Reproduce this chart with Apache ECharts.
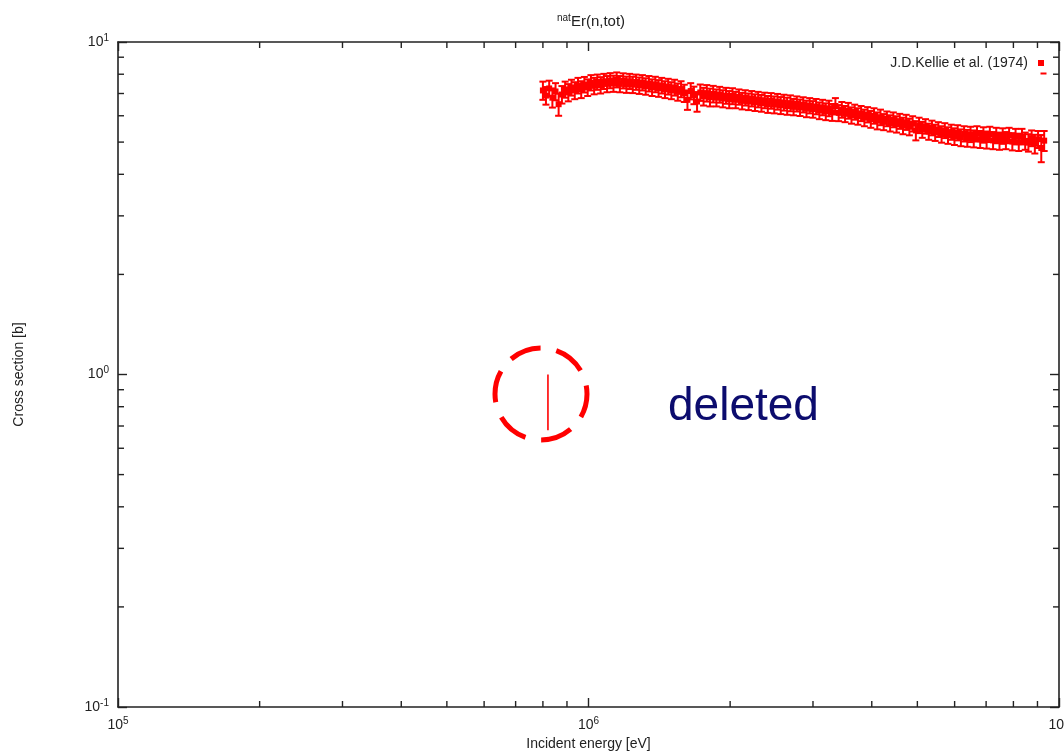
<!DOCTYPE html>
<html>
<head>
<meta charset="utf-8">
<title>natEr(n,tot)</title>
<script src="https://cdn.jsdelivr.net/npm/echarts@6/dist/echarts.min.js"></script>
<style>
  html, body { margin: 0; padding: 0; background: #ffffff; overflow: hidden; }
  #chart { width: 1064px; height: 754px; }
</style>
</head>
<body>
<div id="chart"></div>
<script>
// Total cross section of natural erbium, J.D.Kellie et al. (1974)
// Each entry: [incident energy (MeV), cross section (b), uncertainty (b)]
const kellie = [
  [0.800, 7.15, 0.45], [0.812, 6.90, 0.42], [0.825, 7.25, 0.40], [0.838, 6.80, 0.45],
  [0.851, 7.10, 0.42], [0.864, 6.50, 0.50], [0.878, 6.95, 0.42], [0.892, 7.20, 0.40],
  [0.906, 7.05, 0.42], [0.920, 7.30, 0.40], [0.935, 7.15, 0.42], [0.950, 7.40, 0.40],
  [0.965, 7.20, 0.42], [0.980, 7.45, 0.40], [0.996, 7.30, 0.42], [1.012, 7.55, 0.40],
  [1.028, 7.38, 0.42], [1.044, 7.58, 0.40], [1.061, 7.42, 0.42], [1.078, 7.62, 0.40],
  [1.095, 7.48, 0.42], [1.112, 7.66, 0.40], [1.130, 7.50, 0.42], [1.148, 7.70, 0.40],
  [1.166, 7.48, 0.42], [1.185, 7.65, 0.40], [1.204, 7.45, 0.42], [1.223, 7.62, 0.40],
  [1.242, 7.44, 0.42], [1.262, 7.58, 0.40], [1.282, 7.40, 0.42], [1.302, 7.55, 0.40],
  [1.323, 7.36, 0.42], [1.344, 7.50, 0.40], [1.365, 7.30, 0.42], [1.387, 7.46, 0.40],
  [1.409, 7.26, 0.42], [1.431, 7.40, 0.40], [1.454, 7.20, 0.42], [1.477, 7.35, 0.40],
  [1.500, 7.15, 0.42], [1.524, 7.30, 0.40], [1.548, 7.08, 0.42], [1.573, 7.22, 0.40],
  [1.598, 7.02, 0.42], [1.623, 6.70, 0.45], [1.649, 7.12, 0.40], [1.675, 6.92, 0.42],
  [1.701, 6.62, 0.45], [1.728, 7.05, 0.40], [1.756, 6.86, 0.42], [1.784, 7.02, 0.40],
  [1.812, 6.82, 0.42], [1.841, 6.98, 0.40], [1.870, 6.80, 0.40], [1.900, 6.95, 0.38],
  [1.930, 6.76, 0.40], [1.960, 6.90, 0.38], [1.991, 6.72, 0.40], [2.023, 6.88, 0.38],
  [2.055, 6.70, 0.38], [2.088, 6.84, 0.36], [2.121, 6.65, 0.38], [2.154, 6.80, 0.36],
  [2.189, 6.62, 0.38], [2.223, 6.76, 0.36], [2.259, 6.58, 0.38], [2.294, 6.72, 0.36],
  [2.331, 6.55, 0.38], [2.368, 6.68, 0.36], [2.405, 6.50, 0.38], [2.444, 6.66, 0.36],
  [2.482, 6.48, 0.38], [2.522, 6.62, 0.36], [2.562, 6.45, 0.38], [2.602, 6.58, 0.36],
  [2.644, 6.42, 0.38], [2.686, 6.55, 0.36], [2.728, 6.38, 0.36], [2.772, 6.52, 0.34],
  [2.816, 6.35, 0.36], [2.860, 6.48, 0.34], [2.906, 6.30, 0.36], [2.952, 6.44, 0.34],
  [2.999, 6.28, 0.36], [3.046, 6.40, 0.34], [3.095, 6.22, 0.36], [3.144, 6.36, 0.34],
  [3.194, 6.18, 0.36], [3.244, 6.32, 0.34], [3.296, 6.15, 0.36], [3.348, 6.42, 0.36],
  [3.401, 6.12, 0.34], [3.455, 6.26, 0.34], [3.510, 6.08, 0.34], [3.566, 6.22, 0.34],
  [3.622, 6.02, 0.34], [3.680, 6.16, 0.32], [3.738, 5.98, 0.34], [3.797, 6.10, 0.32],
  [3.858, 5.92, 0.34], [3.919, 6.05, 0.32], [3.981, 5.86, 0.34], [4.044, 6.00, 0.32],
  [4.109, 5.80, 0.34], [4.174, 5.94, 0.32], [4.240, 5.75, 0.32], [4.307, 5.88, 0.30],
  [4.376, 5.70, 0.32], [4.445, 5.84, 0.30], [4.516, 5.66, 0.32], [4.587, 5.78, 0.30],
  [4.660, 5.60, 0.32], [4.734, 5.74, 0.30], [4.809, 5.56, 0.32], [4.886, 5.68, 0.30],
  [4.963, 5.42, 0.36], [5.042, 5.62, 0.30], [5.122, 5.45, 0.30], [5.203, 5.58, 0.28],
  [5.286, 5.38, 0.30], [5.370, 5.52, 0.28], [5.455, 5.34, 0.30], [5.541, 5.46, 0.28],
  [5.629, 5.28, 0.30], [5.719, 5.42, 0.28], [5.809, 5.24, 0.30], [5.902, 5.36, 0.28],
  [5.995, 5.20, 0.30], [6.091, 5.34, 0.28], [6.187, 5.16, 0.30], [6.285, 5.30, 0.28],
  [6.385, 5.14, 0.30], [6.486, 5.28, 0.28], [6.589, 5.12, 0.30], [6.694, 5.30, 0.28],
  [6.800, 5.10, 0.30], [6.908, 5.26, 0.28], [7.017, 5.08, 0.30], [7.129, 5.28, 0.28],
  [7.242, 5.06, 0.30], [7.356, 5.24, 0.28], [7.473, 5.04, 0.30], [7.592, 5.22, 0.28],
  [7.712, 5.06, 0.30], [7.834, 5.24, 0.28], [7.958, 5.02, 0.30], [8.085, 5.20, 0.28],
  [8.213, 5.00, 0.30], [8.343, 5.20, 0.28], [8.475, 5.04, 0.30], [8.610, 4.98, 0.30],
  [8.746, 5.14, 0.28], [8.885, 4.94, 0.32], [9.026, 5.10, 0.30], [9.169, 4.80, 0.45],
  [9.300, 5.05, 0.35]
];

// Removed entry: [energy (eV), lower cross section (b), upper cross section (b)]
const deletedBar = [820000, 0.68, 1.00];

// Axis ranges and minor tick positions
const xRange = [1e5, 1e7];
const yRange = [0.1, 10];
const xMinorTicks = [2e5, 3e5, 4e5, 5e5, 6e5, 7e5, 8e5, 9e5, 2e6, 3e6, 4e6, 5e6, 6e6, 7e6, 8e6, 9e6];
const yMinorTicks = [0.2, 0.3, 0.4, 0.5, 0.6, 0.7, 0.8, 0.9, 2, 3, 4, 5, 6, 7, 8, 9];

const seriesName = 'J.D.Kellie et al. (1974)';
const titleMain = 'Er(n,tot)';
const titleSup = 'nat';
const xName = 'Incident energy [eV]';
const yName = 'Cross section [b]';
const noteText = 'deleted';

const RED = '#ff0000';
const AXIS = '#222222';
const FONT = '"Liberation Sans", Arial, sans-serif';

const points = kellie.map(d => [d[0] * 1e6, d[1], d[2]]);

function powLabel(v) {
  const e = Math.round(Math.log10(v));
  return '10{sup|' + e + '}';
}

const labelRich = {
  sup: { fontSize: 10, fontFamily: FONT, color: AXIS, padding: [0, 0, 8, 0] }
};

const chart = echarts.init(document.getElementById('chart'), null, { renderer: 'canvas', width: 1064, height: 754 });

function baseAxis(range, pos, showLabel) {
  return {
    type: 'log',
    logBase: 10,
    min: range[0],
    max: range[1],
    position: pos,
    axisLine: { show: true, onZero: false, lineStyle: { color: AXIS, width: 1.6 } },
    axisTick: { show: true, inside: true, length: 9, lineStyle: { color: AXIS, width: 1.4 } },
    splitLine: { show: false },
    minorTick: { show: false },
    axisLabel: {
      show: showLabel,
      formatter: powLabel,
      fontSize: 14,
      fontFamily: FONT,
      color: AXIS,
      margin: 9,
      rich: labelRich
    }
  };
}

const xBottom = Object.assign(baseAxis(xRange, 'bottom', true), {
  name: xName,
  nameLocation: 'middle',
  nameGap: 28,
  nameTextStyle: { fontSize: 14, fontFamily: FONT, color: AXIS }
});
const xTop = baseAxis(xRange, 'top', false);
const yLeft = Object.assign(baseAxis(yRange, 'left', true), {
  name: yName,
  nameLocation: 'middle',
  nameGap: 92,
  nameTextStyle: { fontSize: 14, fontFamily: FONT, color: AXIS }
});
const yRight = baseAxis(yRange, 'right', false);

// Error bar with caps and a small square marker
function renderErrorPoint(params, api) {
  const x = api.value(0), y = api.value(1), err = api.value(2);
  const c = api.coord([x, y]);
  const lo = api.coord([x, y - err]);
  const hi = api.coord([x, y + err]);
  const style = { stroke: RED, lineWidth: 2 };
  return {
    type: 'group',
    children: [
      { type: 'line', shape: { x1: c[0], y1: lo[1], x2: c[0], y2: hi[1] }, style: style },
      { type: 'line', shape: { x1: c[0] - 3.5, y1: lo[1], x2: c[0] + 3.5, y2: lo[1] }, style: style },
      { type: 'line', shape: { x1: c[0] - 3.5, y1: hi[1], x2: c[0] + 3.5, y2: hi[1] }, style: style },
      { type: 'rect', shape: { x: c[0] - 3, y: c[1] - 3, width: 6, height: 6 }, style: { fill: RED } }
    ]
  };
}

function renderBar(params, api) {
  const x = api.value(0);
  const lo = api.coord([x, api.value(1)]);
  const hi = api.coord([x, api.value(2)]);
  return {
    type: 'line',
    shape: { x1: lo[0], y1: lo[1], x2: hi[0], y2: hi[1] },
    style: { stroke: RED, lineWidth: 1.6 }
  };
}

// Minor ticks along the bottom/top edges (x) and left/right edges (y)
function renderXMinor(params, api) {
  const v = api.value(0);
  const b = api.coord([v, yRange[0]]);
  const t = api.coord([v, yRange[1]]);
  const s = { stroke: AXIS, lineWidth: 1.4 };
  return {
    type: 'group',
    children: [
      { type: 'line', shape: { x1: b[0], y1: b[1], x2: b[0], y2: b[1] - 6 }, style: s },
      { type: 'line', shape: { x1: t[0], y1: t[1], x2: t[0], y2: t[1] + 6 }, style: s }
    ]
  };
}

function renderYMinor(params, api) {
  const v = api.value(1);
  const l = api.coord([xRange[0], v]);
  const r = api.coord([xRange[1], v]);
  const s = { stroke: AXIS, lineWidth: 1.4 };
  return {
    type: 'group',
    children: [
      { type: 'line', shape: { x1: l[0], y1: l[1], x2: l[0] + 6, y2: l[1] }, style: s },
      { type: 'line', shape: { x1: r[0], y1: r[1], x2: r[0] - 6, y2: r[1] }, style: s }
    ]
  };
}

const option = {
  backgroundColor: '#ffffff',
  animation: false,
  title: {
    text: '{sup|' + titleSup + '}{main|' + titleMain + '}',
    left: 552,
    top: 8,
    textStyle: {
      fontWeight: 'normal',
      rich: {
        sup: { fontSize: 10, fontWeight: 'normal', fontFamily: FONT, color: AXIS, padding: [0, 0, 8, 0] },
        main: { fontSize: 15, fontWeight: 'normal', fontFamily: FONT, color: AXIS }
      }
    }
  },
  legend: {
    data: [{ name: seriesName, icon: 'rect' }],
    right: 15,
    top: 51,
    align: 'right',
    itemWidth: 6,
    itemHeight: 6,
    textStyle: { fontSize: 14, fontFamily: FONT, color: AXIS, padding: [0, 5, 0, 0] },
    selectedMode: false
  },
  grid: { left: 118, right: 5, top: 42, bottom: 47, containLabel: false, outerBoundsMode: 'none' },
  xAxis: [xBottom, xTop],
  yAxis: [yLeft, yRight],
  series: [
    {
      name: seriesName,
      type: 'custom',
      xAxisIndex: 0,
      yAxisIndex: 0,
      itemStyle: { color: RED },
      renderItem: renderErrorPoint,
      encode: { x: 0, y: 1 },
      data: points,
      z: 3
    },
    {
      name: 'removed',
      type: 'custom',
      xAxisIndex: 0,
      yAxisIndex: 0,
      renderItem: renderBar,
      encode: { x: 0, y: [1, 2] },
      data: [deletedBar],
      z: 3
    },
    {
      name: 'xMinor',
      type: 'custom',
      xAxisIndex: 0,
      yAxisIndex: 0,
      clip: false,
      renderItem: renderXMinor,
      data: xMinorTicks.map(v => [v, 1]),
      silent: true,
      z: 1
    },
    {
      name: 'yMinor',
      type: 'custom',
      xAxisIndex: 0,
      yAxisIndex: 0,
      clip: false,
      renderItem: renderYMinor,
      data: yMinorTicks.map(v => [1e6, v]),
      silent: true,
      z: 1
    }
  ],
  graphic: [
    // error-bar key below the legend marker
    { type: 'line', left: 1038, top: 71, shape: { x1: 0, y1: 0, x2: 6, y2: 0 }, style: { stroke: RED, lineWidth: 2 } },
    // dashed ring around the removed bar
    {
      type: 'circle',
      shape: { cx: 541, cy: 394, r: 46 },
      style: { fill: null, stroke: RED, lineWidth: 5, lineDash: [32, 16], lineDashOffset: 8 },
      z: 10
    },
    {
      type: 'text',
      left: 668,
      top: 384,
      style: { text: noteText, fill: '#0c0c6e', font: '46px ' + FONT },
      z: 10
    }
  ]
};

chart.setOption(option);
</script>
</body>
</html>
